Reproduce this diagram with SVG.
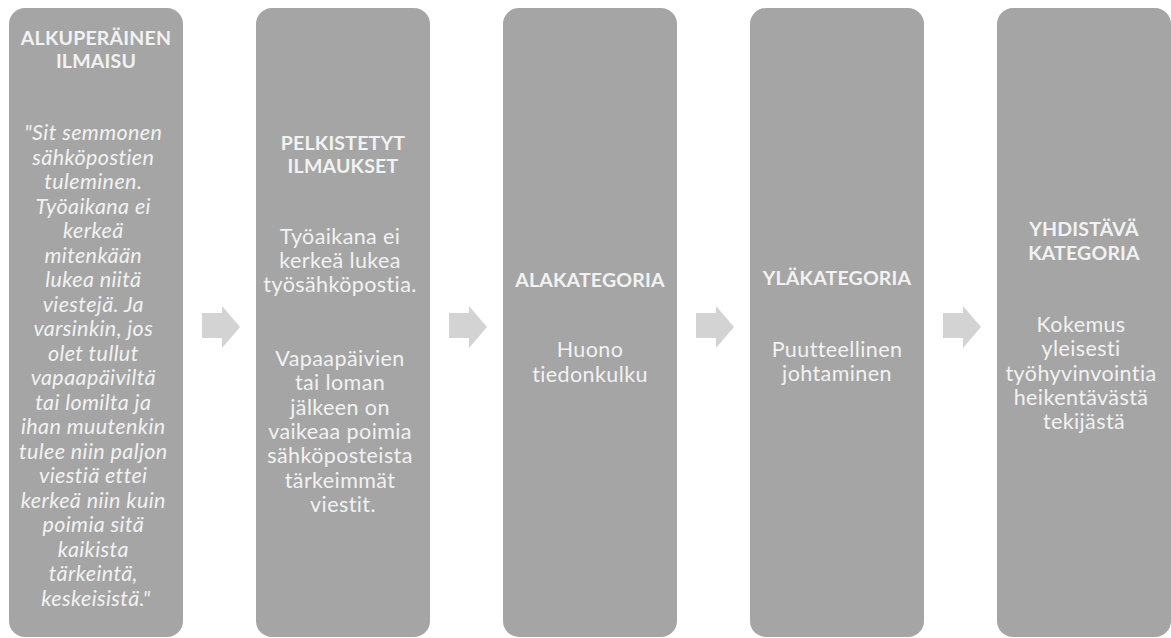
<svg xmlns="http://www.w3.org/2000/svg" width="1171" height="638" viewBox="0 0 1171 638">
  <style>
    .box { fill: #a5a5a5; }
    .arrow { fill: #d3d3d3; }
    text { font-family: Lato, "Open Sans", "Liberation Sans", sans-serif; fill: #f2f2f2; text-anchor: middle; font-size: 21.5px; letter-spacing: 0.4px; }
    .head { font-weight: bold; font-size: 19.5px; letter-spacing: 0.2px; }
    .quote { font-style: italic; }
  </style>
  <defs>
    <path id="arrowShape" d="M0 313 H20 V306 L38 327 L20 348 V338 H0 Z"/>
  </defs>

  <rect width="1171" height="638" fill="#ffffff"/>

  <!-- connectors: block arrows between stages -->
  <g id="connectors">
    <use href="#arrowShape" class="arrow" x="202"/>
    <use href="#arrowShape" class="arrow" x="449"/>
    <use href="#arrowShape" class="arrow" x="696"/>
    <use href="#arrowShape" class="arrow" x="943"/>
  </g>

  <g id="node-alkuperainen">
    <rect class="box" x="9" y="8" width="174" height="629" rx="16"/>
    <text class="head" x="96"><tspan x="96" y="45">ALKUPERÄINEN</tspan><tspan x="96" y="68">ILMAISU</tspan></text>
    <text class="quote" x="96">
      <tspan x="96" y="140">"Sit semmonen</tspan>
      <tspan x="96" y="164.5">sähköpostien</tspan>
      <tspan x="96" y="189">tuleminen.</tspan>
      <tspan x="96" y="213.5">Työaikana ei</tspan>
      <tspan x="96" y="238">kerkeä</tspan>
      <tspan x="96" y="262.5">mitenkään</tspan>
      <tspan x="96" y="287">lukea niitä</tspan>
      <tspan x="96" y="311.5">viestejä. Ja</tspan>
      <tspan x="96" y="336">varsinkin, jos</tspan>
      <tspan x="96" y="360.5">olet tullut</tspan>
      <tspan x="96" y="385">vapaapäiviltä</tspan>
      <tspan x="96" y="409.5">tai lomilta ja</tspan>
      <tspan x="96" y="434">ihan muutenkin</tspan>
      <tspan x="96" y="458.5">tulee niin paljon</tspan>
      <tspan x="96" y="483">viestiä ettei</tspan>
      <tspan x="96" y="507.5">kerkeä niin kuin</tspan>
      <tspan x="96" y="532">poimia sitä</tspan>
      <tspan x="96" y="556.5">kaikista</tspan>
      <tspan x="96" y="581">tärkeintä,</tspan>
      <tspan x="96" y="605.5">keskeisistä."</tspan>
    </text>
  </g>

  <g id="node-pelkistetyt">
    <rect class="box" x="256" y="8" width="174" height="629" rx="16"/>
    <text class="head"><tspan x="343" y="150">PELKISTETYT</tspan><tspan x="343" y="173">ILMAUKSET</tspan></text>
    <text>
      <tspan x="343" y="244">Työaikana ei</tspan>
      <tspan x="343" y="268">kerkeä lukea</tspan>
      <tspan x="343" y="292">työsähköpostia.</tspan>
      <tspan x="343" y="366">Vapaapäivien</tspan>
      <tspan x="343" y="390">tai loman</tspan>
      <tspan x="343" y="414.5">jälkeen on</tspan>
      <tspan x="343" y="439">vaikeaa poimia</tspan>
      <tspan x="343" y="463">sähköposteista</tspan>
      <tspan x="343" y="487.5">tärkeimmät</tspan>
      <tspan x="343" y="512">viestit.</tspan>
    </text>
  </g>

  <g id="node-alakategoria">
    <rect class="box" x="503" y="8" width="174" height="629" rx="16"/>
    <text class="head" x="590" y="287">ALAKATEGORIA</text>
    <text><tspan x="590" y="357">Huono</tspan><tspan x="590" y="382">tiedonkulku</tspan></text>
  </g>

  <g id="node-ylakategoria">
    <rect class="box" x="750" y="8" width="174" height="629" rx="16"/>
    <text class="head" x="837" y="285">YLÄKATEGORIA</text>
    <text><tspan x="837" y="357">Puutteellinen</tspan><tspan x="837" y="381">johtaminen</tspan></text>
  </g>

  <g id="node-yhdistava">
    <rect class="box" x="997" y="8" width="174" height="629" rx="16"/>
    <text class="head"><tspan x="1084" y="236">YHDISTÄVÄ</tspan><tspan x="1084" y="260">KATEGORIA</tspan></text>
    <text>
      <tspan x="1084" y="332">Kokemus</tspan>
      <tspan x="1084" y="356">yleisesti</tspan>
      <tspan x="1084" y="380.5">työhyvinvointia</tspan>
      <tspan x="1084" y="405">heikentävästä</tspan>
      <tspan x="1084" y="429">tekijästä</tspan>
    </text>
  </g>
</svg>
